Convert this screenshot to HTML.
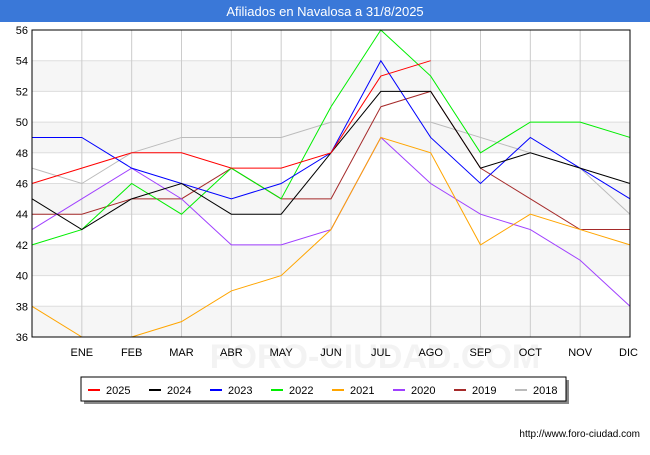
<!DOCTYPE html>
<html><head><meta charset="utf-8"><style>
body{margin:0;width:650px;height:450px;background:#fff;font-family:"Liberation Sans",sans-serif;overflow:hidden}
</style></head><body>
<svg width="650" height="450" xmlns="http://www.w3.org/2000/svg">
<rect x="0" y="0" width="650" height="22" fill="#3a78d8"/>
<text x="325" y="16" text-anchor="middle" fill="#fff" font-size="13">Afiliados en Navalosa a 31/8/2025</text>
<g id="bands"></g><g id="grid"></g>
<text x="375" y="368" text-anchor="middle" fill="#f3f3f3" font-size="34" font-weight="bold">FORO-CIUDAD.COM</text>
<g id="series"></g><g id="axes"></g>
<rect x="84" y="380" width="485" height="24" fill="#888"/>
<rect x="81" y="377" width="485" height="24" fill="#fff" stroke="#000"/>
<g id="legend"></g>
<text x="640" y="437" text-anchor="end" font-size="10" fill="#000">http://www.foro-ciudad.com</text>
</svg>
<script>
const months=["","ENE","FEB","MAR","ABR","MAY","JUN","JUL","AGO","SEP","OCT","NOV","DIC"];
const yTicks=[36,38,40,42,44,46,48,50,52,54,56];
const seriesNames=["2025","2024","2023","2022","2021","2020","2019","2018"];
const colors=["#ff0000","#000000","#0000ff","#00ee00","#ffa500","#a040ff","#a52a2a","#bbbbbb"];
const s2025=[46,47,48,48,47,47,48,53,54];
const s2024=[45,43,45,46,44,44,48,52,52,47,48,47,46];
const s2023=[49,49,47,46,45,46,48,54,49,46,49,47,45];
const s2022=[42,43,46,44,47,45,51,56,53,48,50,50,49];
const s2021=[38,36,36,37,39,40,43,49,48,42,44,43,42];
const s2020=[43,45,47,45,42,42,43,49,46,44,43,41,38];
const s2019=[44,44,45,45,47,45,45,51,52,47,45,43,43];
const s2018=[47,46,48,49,49,49,50,50,50,49,48,47,44];
const allSeries=[s2025,s2024,s2023,s2022,s2021,s2020,s2019,s2018];
const L=32,R=630,T=30,B=337,NS="http://www.w3.org/2000/svg";
const x=i=>L+(R-L)*i/12, y=v=>B-(v-36)/(56-36)*(B-T);
function mk(t,a,p){const e=document.createElementNS(NS,t);for(const k in a)e.setAttribute(k,a[k]);document.getElementById(p).appendChild(e);return e;}
for(let i=0;i<yTicks.length-1;i++){if(i%2===0){const b=mk('rect',{x:L,y:y(yTicks[i+1]),width:R-L,height:y(yTicks[i])-y(yTicks[i+1]),fill:'#f6f6f6'},'bands');

}}
yTicks.forEach(v=>{const g=mk('line',{x1:L,x2:R,y1:y(v),y2:y(v),stroke:'#ddd'},'grid');


const t=mk('text',{x:L-4,y:y(v)+4,'text-anchor':'end','font-size':11},'axes');t.textContent=v;

});
months.forEach((m,i)=>{if(i>0){const g=mk('line',{x1:x(i),x2:x(i),y1:T,y2:B,stroke:'#ccc'},'grid');

}
const t=mk('text',{x:x(i),y:B+19,'text-anchor':i===12?'end':'middle','font-size':11},'axes');t.textContent=m;
if(i===12)t.setAttribute('x',x(i)+8);

});
const fr=mk('rect',{x:L,y:T,width:R-L,height:B-T,fill:'none',stroke:'#000'},'axes');


for(let k=allSeries.length-1;k>=0;k--){const d=allSeries[k];
const p=mk('polyline',{points:d.map((v,i)=>x(i)+','+y(v)).join(' '),fill:'none',stroke:colors[k],'stroke-width':1},'series');

}
seriesNames.forEach((n,k)=>{const lx=88+k*61;
const l=mk('line',{x1:lx,x2:lx+12,y1:390,y2:390,stroke:colors[k],'stroke-width':2},'legend');


const t=mk('text',{x:lx+18,y:394,'font-size':11},'legend');t.textContent=n;

});
</script>
</body></html>
